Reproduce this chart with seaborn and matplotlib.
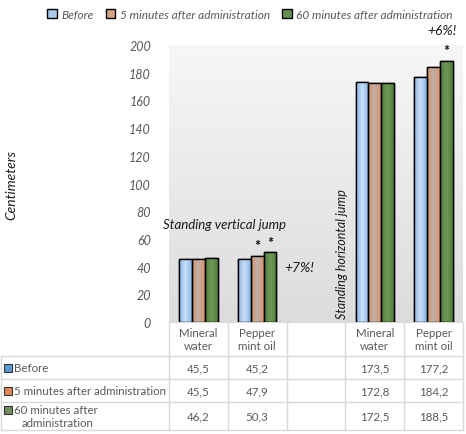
import numpy as np
import pandas as pd
import matplotlib
matplotlib.use("Agg")
import matplotlib.pyplot as plt
from matplotlib.patches import Patch, Rectangle
from matplotlib.colors import LinearSegmentedColormap, to_rgba
import seaborn as sns

# chart data
slots = ["vj_water", "vj_oil", "gap", "hj_water", "hj_oil"]
groups = ["vj_water", "vj_oil", "hj_water", "hj_oil"]
header = ["Mineral\nwater", "Pepper\nmint oil", "", "Mineral\nwater", "Pepper\nmint oil"]
series = ["Before", "5 minutes after administration", "60 minutes after administration"]
row_labels = [["Before"], ["5 minutes after administration"], ["60 minutes after", "administration"]]
before = [45.5, 45.2, 173.5, 177.2]
after_5 = [45.5, 47.9, 172.8, 184.2]
after_60 = [46.2, 50.3, 172.5, 188.5]
yticks = list(range(0, 201, 20))
stars = [("vj_oil", 1), ("vj_oil", 2), ("hj_oil", 2)]

values = [before, after_5, after_60]
df = pd.DataFrame({
    "group": groups * 3,
    "time": [s for s in series for _ in groups],
    "cm": before + after_5 + after_60,
})

# colours: solid (legend), edge and centre of bar gradient, table squares
solid = ["#a9c9ee", "#d3a486", "#6a9152"]
edge_col = ["#8ab4e8", "#dc9468", "#527c3c"]
mid_col = ["#c8def6", "#bfb0a8", "#6c9855"]
table_sq = ["#5b9bd5", "#e0885a", "#6f8f5f"]
grey = "#595959"
ink = "#1a1a1a"
script = {"family": ["Lato", "DejaVu Sans"], "style": "italic"}

fig = plt.figure(figsize=(4.66, 4.35), dpi=100)
ax = fig.add_axes([169 / 466, 112 / 435, 294 / 466, 277 / 435])

sns.barplot(data=df, x="group", y="cm", hue="time", order=slots, hue_order=series,
            palette=dict(zip(series, solid)), width=0.65, gap=0, legend=False,
            edgecolor="black", linewidth=1.0, saturation=1, ax=ax, zorder=3)

ax.set_xlim(-0.5, 4.5)
ax.set_ylim(0, 200)

# gradient background of the plot area
bg = LinearSegmentedColormap.from_list("bg", ["#dcdcdc", "#f7f7f7"])
ax.imshow(np.linspace(0, 1, 256).reshape(-1, 1), cmap=bg, origin="lower",
          extent=(-0.5, 4.5, 0, 200), aspect="auto", zorder=0)

# horizontal gradient inside every bar
grad = np.concatenate([np.linspace(0, 1, 32), np.linspace(1, 0, 32)]).reshape(1, -1)
for p in list(ax.patches):
    fc = p.get_facecolor()
    k = [np.allclose(fc, to_rgba(c)) for c in solid].index(True)
    cm = LinearSegmentedColormap.from_list("b%d" % k, [edge_col[k], mid_col[k]])
    x0, y0, w, h = p.get_x(), p.get_y(), p.get_width(), p.get_height()
    im = ax.imshow(grad, cmap=cm, extent=(x0, x0 + w, y0, y0 + h), aspect="auto", zorder=3.5)
    im.set_clip_path(p)
    ax.add_patch(Rectangle((x0, y0), w, h, fill=False, edgecolor="black", linewidth=1.0, zorder=4))

ax.set_xlim(-0.5, 4.5)
ax.set_ylim(0, 200)
ax.set_yticks(yticks)
ax.set_yticklabels([str(t) for t in yticks], color=grey, fontsize=9, **script)
ax.tick_params(axis="y", length=0, pad=13)
ax.set_xticks([])
ax.set_xlabel("")
ax.set_ylabel("")
for s in ["top", "right", "left"]:
    ax.spines[s].set_visible(False)
ax.spines["bottom"].set_color("#d9d9d9")

# stars above significant bars
for g, k in stars:
    i = slots.index(g)
    v = values[k][groups.index(g)]
    for p in ax.patches:
        cx = p.get_x() + p.get_width() / 2
        if round(cx) == i and abs(p.get_height() - v) < 1e-6:
            ax.text(cx, v + 2, "*", ha="center", va="bottom", fontsize=10.5, color=ink,
                    family=["Lato", "DejaVu Sans"], zorder=5)

# annotations
ax.text(0.45, 71, "Standing vertical jump", ha="center", va="center", fontsize=9.5,
        color=ink, zorder=5, **script)
ax.text(1.72, 40, "+7%!", ha="center", va="center", fontsize=10, color=ink, zorder=5, **script)
ax.text(2.45, 50, "Standing horizontal jump", ha="center", va="center", rotation=90,
        fontsize=9, color=ink, zorder=5, **script)
ax.text(4.15, 211, "+6%!", ha="center", va="center", fontsize=10, color=ink,
        clip_on=False, zorder=5, **script)

fig.text(11 / 466, 1 - 185 / 435, "Centimeters", rotation=90, ha="center", va="center",
         fontsize=10, color=ink, **script)

# legend at the top
handles = [Patch(facecolor=c, edgecolor="black", linewidth=1.0) for c in solid]
fig.legend(handles, series, loc="center", bbox_to_anchor=(250 / 466, 1 - 15 / 435), ncol=3,
           frameon=False, handlelength=0.8, handleheight=0.8, handletextpad=0.4,
           columnspacing=1.0, prop={"family": script["family"], "style": "italic", "size": 8.6},
           labelcolor=grey)

# data table under the chart (pixel coordinates)
tab = fig.add_axes([0, 0, 1, 1], zorder=-1)
tab.set_xlim(0, 466)
tab.set_ylim(435, 0)
tab.axis("off")
edges = [ax.transData.transform((x, 0))[0] for x in np.arange(-0.5, 5.0, 1.0)]
rows = [323, 357, 380, 403, 431]
line = dict(color="#d9d9d9", linewidth=1.0)
for x in edges:
    tab.plot([x, x], [rows[0], rows[-1]], **line)
tab.plot([1, 1], [rows[1], rows[-1]], **line)
for y in rows[1:]:
    tab.plot([1, edges[-1]], [y, y], **line)

cell_font = {"family": ["Lato", "DejaVu Sans"], "size": 8.3}
for i, h in enumerate(header):
    cx = (edges[i] + edges[i + 1]) / 2
    tab.text(cx, (rows[0] + rows[1]) / 2, h, ha="center", va="center", color=grey,
             linespacing=1.3, **cell_font)

for r, lab in enumerate(row_labels):
    yc = (rows[r + 1] + rows[r + 2]) / 2
    if len(lab) == 1:
        ys = [yc]
    else:
        ys = [yc - 6.5, yc + 6.5]
    tab.add_patch(Rectangle((3.5, ys[0] - 4), 8, 8, facecolor=table_sq[r],
                            edgecolor="#333333", linewidth=0.8))
    for j, (txt, yy) in enumerate(zip(lab, ys)):
        tab.text(14 if j == 0 else 22, yy, txt, ha="left", va="center", color=grey, **cell_font)
    col = 0
    for i, s in enumerate(slots):
        if s == "gap":
            continue
        cx = (edges[i] + edges[i + 1]) / 2
        tab.text(cx, yc, f"{values[r][col]:.1f}".replace(".", ","), ha="center",
                 va="center", color=grey, **cell_font)
        col += 1

fig.savefig("out.png", dpi=100, facecolor="white")
